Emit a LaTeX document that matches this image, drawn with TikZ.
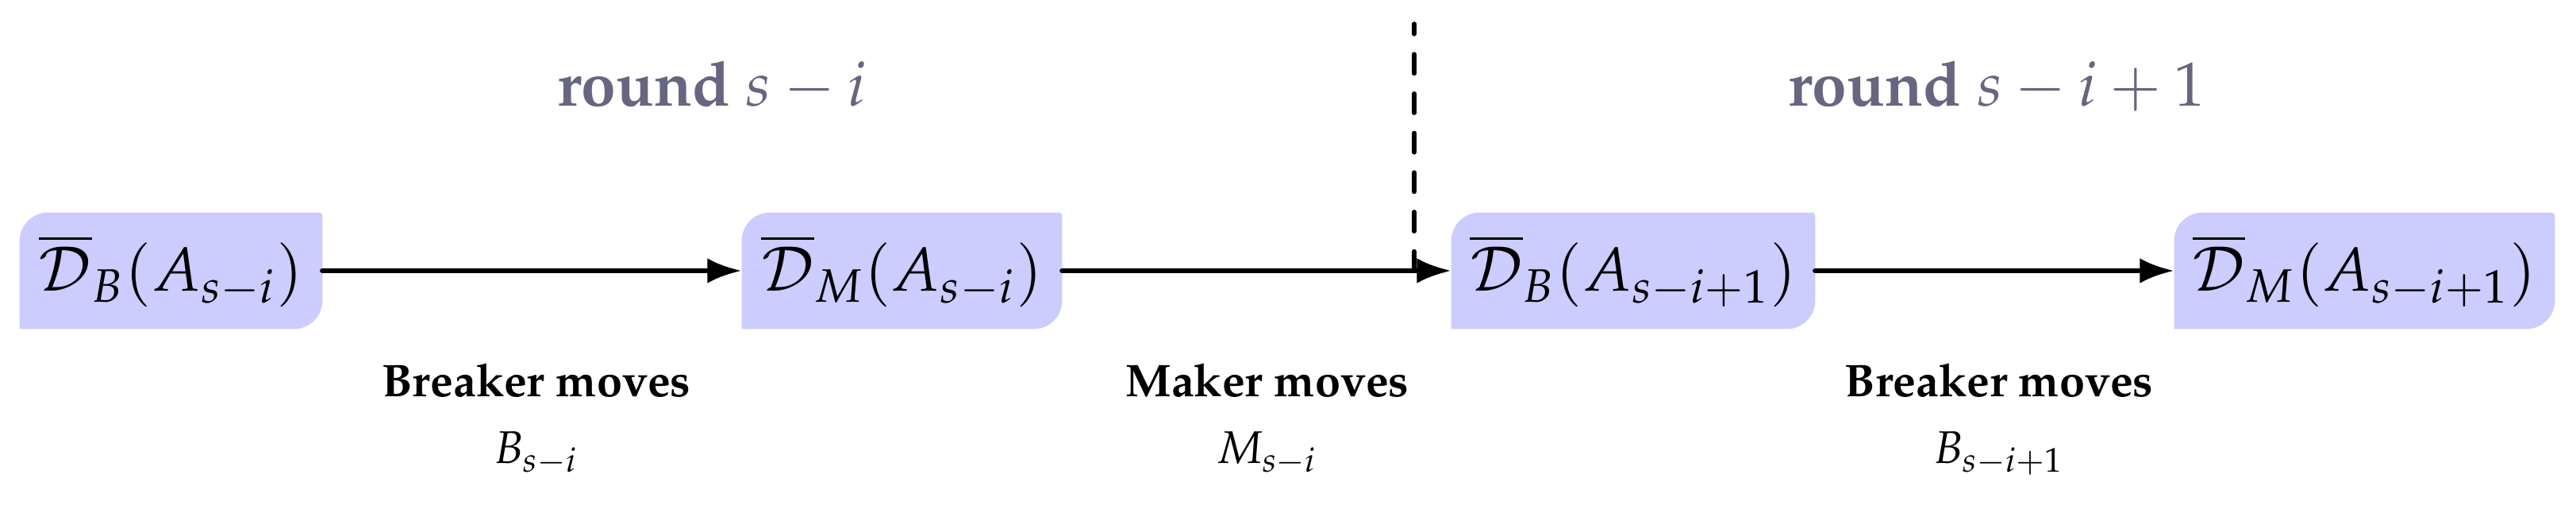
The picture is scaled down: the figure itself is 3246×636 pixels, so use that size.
\documentclass[tikz,border=0pt]{standalone}
\usepackage[T1]{fontenc}
\usepackage{mathpazo}
\usetikzlibrary{arrows.meta,backgrounds}
\definecolor{roundcol}{RGB}{102,102,128}
\definecolor{boxcol}{RGB}{204,204,255}
\tikzset{
  statebox/.style={inner sep=0pt, minimum height=20pt, font=\fontsize{10.8}{13}\selectfont, text=black},
  arr/.style={line width=0.9pt, -{Latex[length=6pt,width=4.4pt]}, line cap=round},
  sepline/.style={line width=0.75pt, dash pattern=on 3.4pt off 3.5pt, line cap=round},
  movelbl/.style={anchor=base, font=\footnotesize\bfseries, inner sep=0pt},
  movesym/.style={anchor=base, font=\footnotesize, inner sep=0pt},
  roundlbl/.style={anchor=base, text=roundcol, inner sep=0pt, font=\fontsize{10.9}{13}\selectfont},
}
\newcommand{\statefill}[1]{%
  \fill[boxcol] (#1.south west) -- ([yshift=-5pt]#1.north west)
    arc[start angle=180,end angle=90,radius=5pt]
    -- ([xshift=-0.6pt]#1.north east)
    arc[start angle=90,end angle=0,radius=0.6pt]
    -- ([yshift=5pt]#1.south east)
    arc[start angle=0,end angle=-90,radius=5pt]
    -- cycle;}
\begin{document}
\begin{tikzpicture}[x=0.138889pt,y=-0.138889pt]
\useasboundingbox (0,0) rectangle (3246,636);
% state boxes
\node[statebox, minimum width=52.6pt] (n1) at (215.5,341) {$\overline{\mathcal{D}}_B(A_{s-i})$};
\node[statebox, minimum width=55.7pt] (n2) at (1136.5,341) {$\overline{\mathcal{D}}_M(A_{s-i})$};
\node[statebox, minimum width=63.3pt] (n3) at (2058,341) {$\overline{\mathcal{D}}_B(A_{s-i+1})$};
\node[statebox, minimum width=66.25pt] (n4) at (2979.5,341) {$\overline{\mathcal{D}}_M(A_{s-i+1})$};
\begin{scope}[on background layer]
  \statefill{n1}\statefill{n2}\statefill{n3}\statefill{n4}
\end{scope}
% round labels
\node[roundlbl] (r1) at (897,134) {\textbf{round} $s-i$};
\node[roundlbl] (r2) at (2516,134) {\textbf{round} $s-i+1$};
% separator
\coordinate (dbot) at (1782,341);
\coordinate (dtop) at (1782,30);
\draw[sepline] (dbot) -- (dtop);
% arrows
\draw[arr] (n1) -- (n2);
\draw[arr] (n2) -- (n3);
\draw[arr] (n3) -- (n4);
% move labels
\node[movelbl] (l1) at (676,500) {Breaker moves};
\node[movesym] (s1) at (676,584) {$B_{s-i}$};
\node[movelbl] (l2) at (1597,500) {Maker moves};
\node[movesym] (s2) at (1597,584) {$M_{s-i}$};
\node[movelbl] (l3) at (2519,500) {Breaker moves};
\node[movesym] (s3) at (2519,584) {$B_{s-i+1}$};
\end{tikzpicture}
\end{document}
